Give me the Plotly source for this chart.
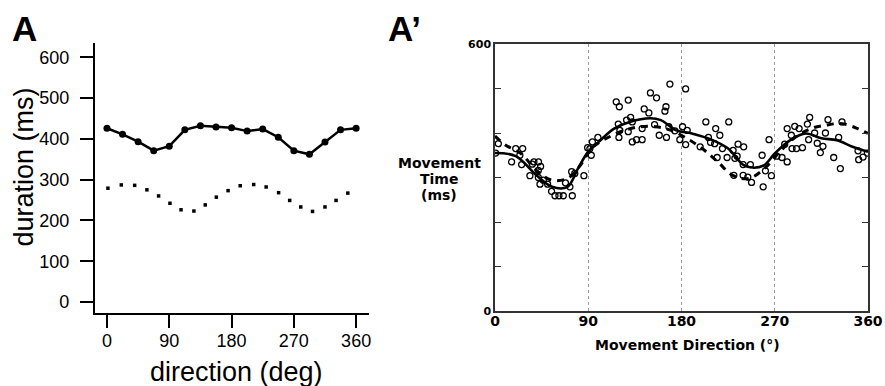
import plotly.graph_objects as go

W, H = 885, 386

# ---------------- Panel A data ----------------
a_dir = [0, 22.5, 45, 67.5, 90, 112.5, 135, 157.5, 180, 202.5, 225, 247.5, 270, 292.5, 315, 337.5, 360]
a_dur = [426, 411, 393, 371, 382, 422, 432, 429, 427, 419, 424, 404, 371, 362, 392, 422, 426]

a_dot_dir = [1.4, 20.7, 40, 57.7, 74.6, 91, 107, 125.6, 142, 158, 175, 192.5, 212, 230, 248, 264, 280, 297, 315, 331, 348]
a_dot_dur = [279, 287, 286, 275, 260, 242, 226, 223, 238, 257, 273, 285, 288, 282, 268, 249, 233, 222, 233, 249, 267]

a_xticks = [0, 90, 180, 270, 360]
a_yticks = [0, 100, 200, 300, 400, 500, 600]

# ---------------- Panel A' data ----------------
b_pts_dir = [0.6, 3.2, 16, 20, 26.7, 24, 25.7, 33.7, 36, 37.6, 42, 44, 41.8, 41.8, 43.4, 46.6, 50.8, 54.6,
             57.9, 61.7, 65.9, 68, 72.3, 74.6, 74, 77, 85.8, 89.4, 94, 91.6, 92.9, 99.3, 117, 120, 128.6,
             119, 120.5, 119.6, 127, 130.9, 132.5, 128.6, 132.5, 136.6, 142, 142, 144, 148.5, 150, 155.9,
             154, 158.5, 164, 165, 168.8, 165.5, 167.8, 173.6, 184, 181, 185.5, 178.4, 184, 198, 203.5,
             206, 208, 212, 213, 217, 214.4, 219.5, 225.6, 224, 229.8, 234.6, 240, 231.5, 233.7, 239.5,
             230.5, 239.5, 246.5, 244, 247.6, 257.8, 258.8, 261, 264.5, 266.8, 272, 277, 282, 279.6, 282,
             286, 289.3, 293.5, 286.7, 291, 296.7, 301.5, 303.7, 302.7, 308.5, 311, 314, 316.5, 318.9,
             321.4, 326.9, 331.7, 333.3, 334.9, 350.4, 351, 355.2, 359.4]
b_pts_mt = [355, 376, 335, 365, 365, 350, 329, 304, 330, 335, 335, 325, 316, 300, 285, 294, 285, 269,
            259, 259, 259, 288, 279, 259, 313, 309, 304, 367, 380, 365, 350, 390, 470, 459, 474,
            420, 406, 390, 429, 435, 425, 403, 380, 385, 385, 410, 454, 445, 490, 479,
            419, 395, 449, 459, 510, 390, 414, 405, 499, 414, 406, 385, 374, 369, 425,
            390, 379, 376, 410, 395, 345, 365, 425, 345, 361, 375, 369, 343, 348, 329,
            305, 305, 329, 301, 289, 350, 279, 315, 385, 304, 348, 345, 335, 375, 410,
            395, 415, 410, 365, 365, 367, 420, 435, 385, 400, 377, 356, 370, 400,
            430, 345, 390, 320, 425, 360, 340, 346, 355]

b_solid_dir = [0, 20, 40, 55, 70, 80, 90, 100, 115, 130, 150, 160, 175, 190, 210, 225, 240, 250, 260,
               270, 285, 300, 315, 330, 345, 360]
b_solid_mt = [355, 348, 305, 279, 279, 320, 358, 380, 410, 425, 433, 429, 406, 399, 384, 365, 328, 322,
              328, 354, 384, 399, 388, 384, 369, 358]

b_dash_dir = [0, 10, 25, 40, 55, 70, 80, 95, 110, 125, 140, 155, 170, 185, 200, 215, 230, 245, 260,
              275, 290, 305, 320, 335, 350, 360]
b_dash_mt = [393, 373, 354, 316, 294, 298, 320, 369, 391, 406, 414, 414, 406, 388, 365, 335, 304, 298,
             320, 358, 391, 410, 418, 421, 410, 399]

b_xticks = [0, 90, 180, 270, 360]
b_yticks = [0, 100, 200, 300, 400, 500, 600]
b_yticktext = ["0", "", "", "", "", "", "600"]


def px(x):
    return x / W


def py(y):
    return 1 - y / H


SANS = "Liberation Sans, Arial, Helvetica, sans-serif"
BOLD = "DejaVu Sans, sans-serif"

fig = go.Figure()

# Panel A
fig.add_trace(go.Scatter(x=a_dot_dir, y=a_dot_dur, mode="markers",
                         marker=dict(symbol="square", size=3.5, color="black"),
                         xaxis="x", yaxis="y", showlegend=False))
fig.add_trace(go.Scatter(x=a_dir, y=a_dur, mode="lines+markers",
                         line=dict(color="black", width=2.5),
                         marker=dict(symbol="circle", size=7, color="black"),
                         xaxis="x", yaxis="y", showlegend=False))

# Panel A'
fig.add_trace(go.Scatter(x=b_pts_dir, y=b_pts_mt, mode="markers",
                         marker=dict(symbol="circle-open", size=6, color="black",
                                     line=dict(width=1.3, color="black")),
                         xaxis="x2", yaxis="y2", showlegend=False))
fig.add_trace(go.Scatter(x=b_solid_dir, y=b_solid_mt, mode="lines", line_shape="spline",
                         line=dict(color="black", width=2.6),
                         xaxis="x2", yaxis="y2", showlegend=False))
fig.add_trace(go.Scatter(x=b_dash_dir, y=b_dash_mt, mode="lines", line_shape="spline",
                         line=dict(color="black", width=3, dash="7px,6px"),
                         xaxis="x2", yaxis="y2", showlegend=False))

fig.update_layout(
    width=W, height=H, autosize=False,
    margin=dict(l=0, r=0, t=0, b=0, pad=0, autoexpand=False),
    paper_bgcolor="white", plot_bgcolor="white",
    xaxis=dict(domain=[px(95), px(369)], range=[-17.3, 378.6], tickvals=a_xticks,
               showline=True, linecolor="black", linewidth=2.2, automargin=False,
               ticks="outside", ticklen=13, tickwidth=2.2, tickcolor="black",
               tickfont=dict(family=SANS, size=18, color="black"), ticklabelstandoff=-3,
               showgrid=False, zeroline=False, anchor="y"),
    yaxis=dict(domain=[py(313), py(43)], range=[-27, 635], tickvals=a_yticks,
               showline=True, linecolor="black", linewidth=2.2, automargin=False,
               ticks="outside", ticklen=13, tickwidth=2.2, tickcolor="black",
               tickfont=dict(family=SANS, size=18, color="black"), ticklabelstandoff=7,
               showgrid=False, zeroline=False, anchor="x"),
    xaxis2=dict(domain=[px(495), px(868)], range=[0, 360], tickvals=b_xticks,
                showline=True, linecolor="#333", linewidth=1.5, mirror=True, automargin=False,
                ticks="", showgrid=True, gridcolor="#999", griddash="dot", gridwidth=1,
                tickfont=dict(family=BOLD, size=14, color="black", weight="bold"),
                ticklabelstandoff=-4, zeroline=False, anchor="y2"),
    yaxis2=dict(domain=[py(311), py(44)], range=[0, 600], tickvals=b_yticks, ticktext=b_yticktext,
                showline=True, linecolor="#333", linewidth=1.5, mirror="ticks", automargin=False,
                ticks="inside", ticklen=6, tickwidth=1.2, tickcolor="#333",
                tickfont=dict(family=BOLD, size=11, color="black", weight="bold"),
                showgrid=False, zeroline=False, anchor="x2"),
)

ann = []
# panel labels
ann.append(dict(text="<b>A</b>", x=px(10), y=py(28), xanchor="left", yanchor="middle",
                font=dict(family=SANS, size=35, color="black")))
ann.append(dict(text="<b>A’</b>", x=px(386), y=py(28), xanchor="left", yanchor="middle",
                font=dict(family=SANS, size=35, color="black")))
# panel A titles
ann.append(dict(text="duration (ms)", x=px(23), y=py(167.5), xanchor="center", yanchor="middle",
                textangle=-90, font=dict(family=SANS, size=27, color="black")))
ann.append(dict(text="direction (deg)", x=px(236), y=py(372), xanchor="center", yanchor="middle",
                font=dict(family=SANS, size=27, color="black")))
# panel A' titles
for txt, yy in [("Movement", 162.7), ("Time", 179), ("(ms)", 195)]:
    ann.append(dict(text="<b>" + txt + "</b>", x=px(439), y=py(yy), xanchor="center", yanchor="middle",
                    font=dict(family=BOLD, size=14, color="black")))
ann.append(dict(text="<b>Movement Direction (°)</b>", x=px(687), y=py(345), xanchor="center",
                yanchor="middle", font=dict(family=BOLD, size=14, color="black")))

for a in ann:
    a.update(xref="paper", yref="paper", showarrow=False)
fig.update_layout(annotations=ann)

fig.write_html("out.html", config={"displayModeBar": False},
               post_script="document.body.style.margin='0';document.body.style.overflow='hidden';")
